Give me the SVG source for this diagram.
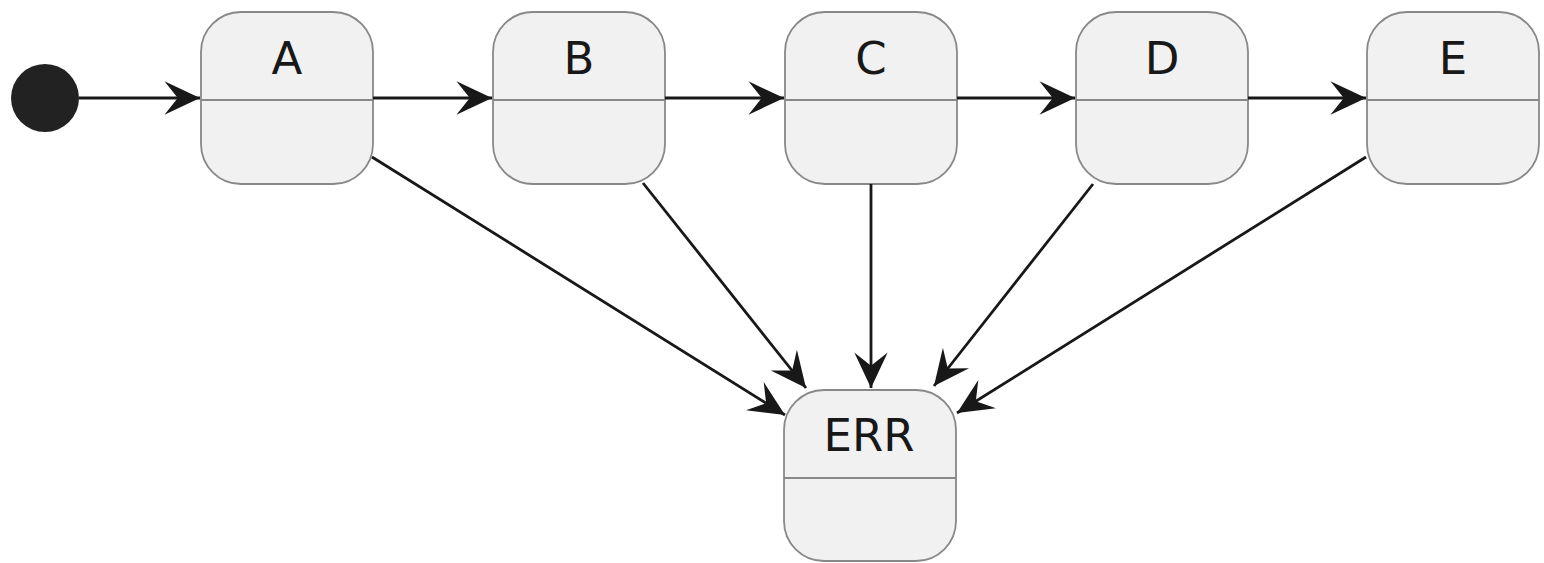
<svg xmlns="http://www.w3.org/2000/svg" width="1544" height="563" viewBox="0 0 1544 563">
<defs>
<style>
.st rect{fill:#f1f1f1;stroke:#888;stroke-width:1.8}
.st line{stroke:#888;stroke-width:1.8}
.st text{font-family:"DejaVu Sans","Noto Sans",sans-serif;font-size:45px;fill:#181818;text-anchor:middle}
.cn line{stroke:#181818;stroke-width:2.8;marker-end:url(#ah)}
</style>
<marker id="ah" markerUnits="userSpaceOnUse" markerWidth="40" markerHeight="40" viewBox="-34 -17 36 34" refX="0" refY="0" orient="auto">
<path d="M0,0 L-32,-15 L-20,0 L-32,15 Z" fill="#181818"/>
</marker>
</defs>
<rect width="1544" height="563" fill="#fff"/>
<g id="start"><circle cx="45" cy="98" r="34" fill="#222"/></g>
<g id="A" class="st"><rect x="201" y="12" width="172" height="172" rx="40"/><line x1="201" y1="100" x2="373" y2="100"/><text x="287" y="74">A</text></g>
<g id="B" class="st"><rect x="493" y="12" width="172" height="172" rx="40"/><line x1="493" y1="100" x2="665" y2="100"/><text x="579" y="74">B</text></g>
<g id="C" class="st"><rect x="785" y="12" width="172" height="172" rx="40"/><line x1="785" y1="100" x2="957" y2="100"/><text x="871" y="74">C</text></g>
<g id="D" class="st"><rect x="1076" y="12" width="172" height="172" rx="40"/><line x1="1076" y1="100" x2="1248" y2="100"/><text x="1162" y="74">D</text></g>
<g id="E" class="st"><rect x="1367" y="12" width="172" height="172" rx="40"/><line x1="1367" y1="100" x2="1539" y2="100"/><text x="1453" y="74">E</text></g>
<g id="ERR" class="st"><rect x="784" y="390" width="172" height="171" rx="40"/><line x1="784" y1="478" x2="956" y2="478"/><text x="869" y="451">ERR</text></g>
<g id="connectors" class="cn">
<line x1="79" y1="98" x2="200" y2="98"/>
<line x1="373" y1="98" x2="492" y2="98"/>
<line x1="665" y1="98" x2="784" y2="98"/>
<line x1="957" y1="98" x2="1075" y2="98"/>
<line x1="1248" y1="98" x2="1366" y2="98"/>
<line x1="372" y1="157" x2="785" y2="415"/>
<line x1="643" y1="183" x2="806" y2="388"/>
<line x1="871" y1="184" x2="871" y2="388"/>
<line x1="1093" y1="184" x2="934" y2="386"/>
<line x1="1366" y1="157" x2="957" y2="413"/>
</g>
</svg>
